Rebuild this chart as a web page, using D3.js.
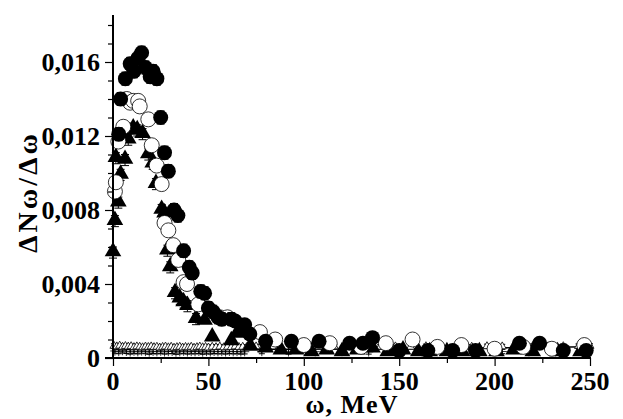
<!DOCTYPE html>
<html>
<head>
<meta charset="utf-8">
<script src="https://cdn.jsdelivr.net/npm/d3@7"></script>
<style>
  body { margin: 0; background: #fff; }
  text { font-family: "Liberation Serif", "Times New Roman", serif; font-weight: bold; }
</style>
</head>
<body>
<div id="chart"></div>
<script>
// filled circles
var fcW = [3, 4, 6.5, 9, 11, 13, 15, 17, 19.5, 21, 23, 25, 27, 29, 32, 34, 37, 40, 41.5, 46, 48, 50, 52.5, 55, 57, 62, 64, 68, 69, 71.7, 80, 93.5, 108, 124, 131, 136, 150, 165, 178, 190, 213, 223.6, 236, 248];
var fcV = [0.0121, 0.0140, 0.0151, 0.0159, 0.0155, 0.0162, 0.0165, 0.0157, 0.0152, 0.0155, 0.0151, 0.0130, 0.0111, 0.0101, 0.0080, 0.0077, 0.0058, 0.0049, 0.0046, 0.0036, 0.0035, 0.0027, 0.0025, 0.0022, 0.0021, 0.0021, 0.0020, 0.0017, 0.0018, 0.0013, 0.0009, 0.0009, 0.0009, 0.0008, 0.0008, 0.0011, 0.0004, 0.0004, 0.0004, 0.0004, 0.0008, 0.0008, 0.0004, 0.0004];

// open circles
var ocW = [1, 1.5, 2.8, 5.4, 7.2, 9, 10.6, 13.2, 14, 18.5, 20.3, 22.9, 25.5, 27, 29, 31.6, 34.2, 37, 38.8, 44.7, 56, 60, 77, 85, 100, 113.6, 130, 143, 157, 170, 182.6, 200, 215, 230, 247];
var ocV = [0.0090, 0.0095, 0.0117, 0.0125, 0.0140, 0.0138, 0.0139, 0.0139, 0.0136, 0.0129, 0.0115, 0.0104, 0.0094, 0.0073, 0.0069, 0.0061, 0.0053, 0.0041, 0.0040, 0.0029, 0.0022, 0.0022, 0.0014, 0.0010, 0.0007, 0.0008, 0.0006, 0.0008, 0.0010, 0.0006, 0.0007, 0.0005, 0.0006, 0.0005, 0.0007];

// filled triangles
var ftW = [0, 1, 1.5, 2.8, 4, 6.3, 8, 10.6, 12.7, 15.5, 18.5, 20.8, 22.5, 25.5, 27, 28.5, 30, 32.5, 35, 37, 39, 43.5, 48, 52, 62, 65, 72, 80, 88, 96, 104, 112, 120, 128, 136, 144, 152, 160, 166, 175, 183, 192, 201, 210, 220, 233, 245];
var ftV = [0.0057, 0.0074, 0.0108, 0.0084, 0.0099, 0.0107, 0.0118, 0.0124, 0.0123, 0.0121, 0.0110, 0.0105, 0.0094, 0.0080, 0.0078, 0.0058, 0.0049, 0.0035, 0.0032, 0.0030, 0.0028, 0.0021, 0.0020, 0.0011, 0.0009, 0.0013, 0.0006, 0.0005, 0.0004, 0.0004, 0.0003, 0.0004, 0.0003, 0.0004, 0.0005, 0.0003, 0.0004, 0.0003, 0.0003, 0.0003, 0.0003, 0.0003, 0.0003, 0.0004, 0.0003, 0.0003, 0.0003];

// small open triangles (background level)
var otW = [0.5, 2, 3.5, 5, 6.5, 8, 9.5, 11, 12.5, 14, 15.5, 17, 18.5, 20, 21.5, 23, 24.5, 26, 27.5, 29, 30.5, 32, 33.5, 35, 36.5, 38, 39.5, 41, 42.5, 44, 45.5, 47, 48.5, 50, 52, 54, 56, 58, 60, 62, 64, 66, 68, 70, 75, 80, 87, 94, 101, 108, 116, 124, 132, 140, 148, 156, 164, 172, 180, 188, 196, 204, 212, 220, 228, 236, 244, 250];
var otV = [0.00065, 0.00062, 0.00066, 0.00060, 0.00064, 0.00061, 0.00063, 0.00058, 0.00062, 0.00060, 0.00057, 0.00061, 0.00059, 0.00062, 0.00058, 0.00060, 0.00056, 0.00059, 0.00061, 0.00057, 0.00060, 0.00055, 0.00058, 0.00060, 0.00056, 0.00059, 0.00057, 0.00060, 0.00055, 0.00058, 0.00061, 0.00057, 0.00059, 0.00056, 0.00060, 0.00058, 0.00061, 0.00057, 0.00060, 0.00058, 0.00062, 0.00059, 0.00060, 0.00058, 0.00062, 0.00060, 0.00059, 0.00061, 0.00058, 0.00060, 0.00062, 0.00059, 0.00061, 0.00060, 0.00062, 0.00060, 0.00063, 0.00061, 0.00062, 0.00060, 0.00063, 0.00062, 0.00061, 0.00064, 0.00062, 0.00063, 0.00064, 0.00065];

// crosses (lower background level)
var crW = [1, 3, 5, 7, 9, 11, 13, 15, 17, 19, 21, 23, 25, 27, 29, 31, 33, 35, 37, 39, 41, 43, 45, 47, 49, 51, 53, 55, 57, 59, 61, 63, 65, 67, 69, 78, 92, 106, 120, 134, 148, 162, 176, 190, 204, 218, 232, 246];
var crV = [0.00038, 0.00035, 0.00040, 0.00036, 0.00033, 0.00037, 0.00034, 0.00038, 0.00035, 0.00032, 0.00036, 0.00034, 0.00037, 0.00033, 0.00035, 0.00036, 0.00032, 0.00034, 0.00037, 0.00033, 0.00035, 0.00034, 0.00036, 0.00032, 0.00035, 0.00033, 0.00036, 0.00034, 0.00035, 0.00033, 0.00036, 0.00034, 0.00035, 0.00033, 0.00034, 0.00035, 0.00033, 0.00034, 0.00035, 0.00033, 0.00034, 0.00035, 0.00033, 0.00034, 0.00035, 0.00034, 0.00033, 0.00035];

// fitted line
var lnW = [0, 50, 100, 150, 200, 250];
var lnV = [0.00052, 0.00048, 0.00047, 0.00050, 0.00055, 0.00061];

var xTicks = [0, 50, 100, 150, 200, 250];
var yTicks = [0, 0.004, 0.008, 0.012, 0.016];

var width = 623, height = 419;

var svg = d3.select("#chart")
    .append("svg")
    .attr("width", width)
    .attr("height", height);

var x = d3.scaleLinear()
    .domain([0, 250])
    .range([113, 590]);

var y = d3.scaleLinear()
    .domain([0, 0.0185])
    .range([358, 15.75]);

function zip(ws, vs) {
    return ws.map(function (w, i) { return { w: w, v: vs[i] }; });
}

// background line
svg.append("path")
    .datum(zip(lnW, lnV))
    .attr("fill", "none")
    .attr("stroke", "#000")
    .attr("stroke-width", 1.5)
    .attr("d", d3.line().x(function (d) { return x(d.w); }).y(function (d) { return y(d.v); }));

// error bars helper
function errBars(data, err, cap) {
    var g = svg.append("g").attr("stroke", "#000").attr("stroke-width", 1);
    data.forEach(function (d) {
        var cx = x(d.w);
        g.append("line").attr("x1", cx).attr("x2", cx).attr("y1", y(d.v - err)).attr("y2", y(d.v + err));
        g.append("line").attr("x1", cx - cap).attr("x2", cx + cap).attr("y1", y(d.v + err)).attr("y2", y(d.v + err));
        g.append("line").attr("x1", cx - cap).attr("x2", cx + cap).attr("y1", y(d.v - err)).attr("y2", y(d.v - err));
    });
}

var crData = zip(crW, crV);
var otData = zip(otW, otV);
errBars(crData, 0.00012, 3);
errBars(otData, 0.00012, 3);

svg.append("g")
    .selectAll("path")
    .data(crData)
    .enter()
    .append("path")
    .attr("transform", function (d) { return "translate(" + x(d.w) + "," + y(d.v) + ")"; })
    .attr("d", d3.symbol().type(d3.symbolPlus).size(30))
    .attr("fill", "none")
    .attr("stroke", "#000")
    .attr("stroke-width", 0.8);

svg.append("g")
    .selectAll("path")
    .data(otData)
    .enter()
    .append("path")
    .attr("transform", function (d) { return "translate(" + x(d.w) + "," + y(d.v) + ")"; })
    .attr("d", d3.symbol().type(d3.symbolTriangle).size(28))
    .attr("fill", "#fff")
    .attr("stroke", "#000")
    .attr("stroke-width", 0.8);

// filled triangles
var ftData = zip(ftW, ftV);
errBars(ftData.filter(function (d) { return d.v > 0.002; }), 0.0003, 4);
svg.append("g")
    .selectAll("path")
    .data(ftData)
    .enter()
    .append("path")
    .attr("transform", function (d) { return "translate(" + x(d.w) + "," + (y(d.v) - 1) + ")"; })
    .attr("d", d3.symbol().type(d3.symbolTriangle).size(120))
    .attr("fill", "#000");

// open circles
var ocData = zip(ocW, ocV);
errBars(ocData.filter(function (d) { return d.v > 0.002; }), 0.0003, 4);
svg.append("g")
    .selectAll("circle")
    .data(ocData)
    .enter()
    .append("circle")
    .attr("cx", function (d) { return x(d.w); })
    .attr("cy", function (d) { return y(d.v); })
    .attr("r", 7.5)
    .attr("fill", "#fff")
    .attr("stroke", "#000")
    .attr("stroke-width", 0.8);

// filled circles
var fcData = zip(fcW, fcV);
errBars(fcData.filter(function (d) { return d.v > 0.002; }), 0.00035, 4);
svg.append("g")
    .selectAll("circle")
    .data(fcData)
    .enter()
    .append("circle")
    .attr("cx", function (d) { return x(d.w); })
    .attr("cy", function (d) { return y(d.v); })
    .attr("r", 7.5)
    .attr("fill", "#000");

// axes
var xAxis = svg.append("g")
    .attr("transform", "translate(0,358)")
    .call(d3.axisBottom(x).tickValues(d3.range(0, 251, 25)).tickSize(8).tickFormat(""));
xAxis.select(".domain").attr("stroke-width", 2).attr("d", "M105,0H591");
xAxis.selectAll(".tick line").attr("stroke-width", 1.2)
    .attr("y2", function (d) { return d % 50 === 0 ? 8 : 5; });

svg.append("g")
    .selectAll("text")
    .data(xTicks)
    .enter()
    .append("text")
    .attr("x", function (d) { return x(d); })
    .attr("y", 390)
    .attr("text-anchor", "middle")
    .style("font-size", "26px")
    .text(function (d) { return d; });

var yAxis = svg.append("g")
    .attr("transform", "translate(113,0)")
    .call(d3.axisLeft(y).tickValues(d3.range(0, 19).map(function (i) { return i / 1000; })).tickSize(8).tickFormat(""));
yAxis.select(".domain").attr("stroke-width", 2).attr("d", "M0,358V15");
yAxis.selectAll(".tick line").attr("stroke-width", 1.2)
    .attr("x2", function (d, i) { return i % 4 === 0 ? -8 : -5; });

svg.append("g")
    .selectAll("text")
    .data(yTicks)
    .enter()
    .append("text")
    .attr("x", 100)
    .attr("y", function (d) { return y(d) + 9; })
    .attr("text-anchor", "end")
    .style("font-size", "26px")
    .text(function (d) { return d === 0 ? "0" : d3.format(".3f")(d).replace(".", ","); });

svg.append("text")
    .attr("x", 352)
    .attr("y", 413)
    .attr("text-anchor", "middle")
    .style("font-size", "26px")
    .style("letter-spacing", "1px")
    .text("ω, MeV");

svg.append("text")
    .attr("transform", "translate(37,192) rotate(-90)")
    .attr("text-anchor", "middle")
    .style("font-size", "28px")
    .style("letter-spacing", "3px")
    .text("ΔNω/Δω");
</script>
</body>
</html>
